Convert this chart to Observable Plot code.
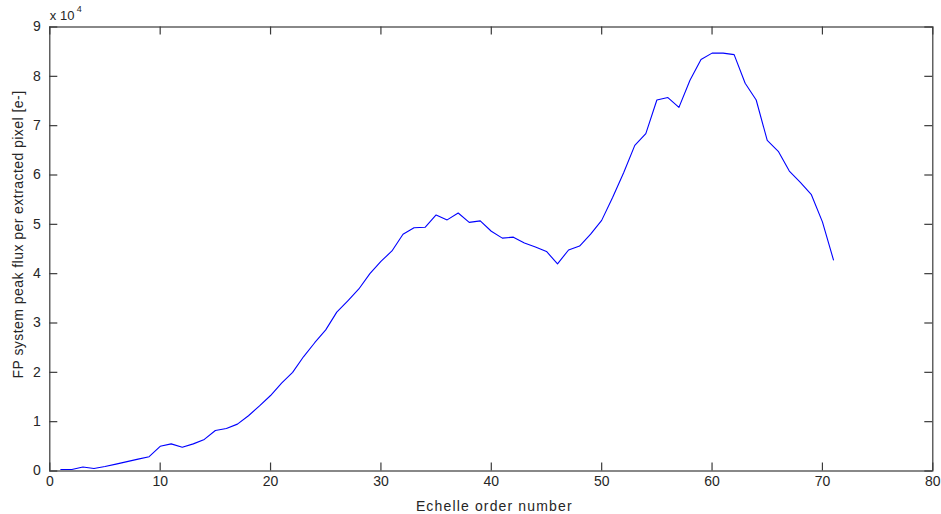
<!DOCTYPE html>
<html>
<head>
<meta charset="utf-8">
<script src="https://cdn.jsdelivr.net/npm/d3@7"></script>
<script src="https://cdn.jsdelivr.net/npm/@observablehq/plot@0.6"></script>
<style>
  html, body { margin: 0; padding: 0; background: #fff; }
</style>
</head>
<body>
<div id="chart"></div>
<script>
// Echelle order numbers
const orders = d3.range(1, 72);
// FP system peak flux per extracted pixel, in units of 10^4 e-
const flux = [
  0.03, 0.03, 0.08, 0.05, 0.09, 0.14, 0.19, 0.24, 0.29, 0.50,
  0.55, 0.48, 0.55, 0.64, 0.82, 0.86, 0.95, 1.12, 1.32, 1.53,
  1.78, 2.00, 2.32, 2.60, 2.86, 3.22, 3.45, 3.69, 4.00, 4.25,
  4.46, 4.80, 4.93, 4.94, 5.19, 5.09, 5.23, 5.04, 5.07, 4.86,
  4.72, 4.74, 4.62, 4.54, 4.45, 4.20, 4.48, 4.56, 4.80, 5.08,
  5.55, 6.05, 6.60, 6.84, 7.52, 7.57, 7.37, 7.92, 8.34, 8.47,
  8.47, 8.44, 7.86, 7.52, 6.70, 6.48, 6.08, 5.85, 5.60, 5.05,
  4.28
];
const xTicks = [0, 10, 20, 30, 40, 50, 60, 70, 80];
const yTicks = [0, 1, 2, 3, 4, 5, 6, 7, 8, 9];
const xLabel = "Echelle order number";
const yLabel = "FP system peak flux per extracted pixel [e-]";
const multiplier = "x 10";
const exponent = "4";

const data = orders.map((o, i) => ({order: o, flux: flux[i]}));

const W = 941, H = 514;
const mL = 49.3, mR = 8.7, mT = 26.5, mB = 43.5;
const plotW = W - mL - mR, plotH = H - mT - mB;
const tick = 8;
const axisColor = "#3a3a3a";
const textColor = "#262626";

const chart = Plot.plot({
  width: W,
  height: H,
  marginLeft: mL,
  marginRight: mR,
  marginTop: mT,
  marginBottom: mB,
  style: {fontFamily: "'Liberation Sans', Arial, sans-serif", background: "#fff", color: textColor},
  x: {domain: [0, 80], label: null},
  y: {domain: [0, 9], label: null},
  marks: [
    Plot.frame({stroke: axisColor, strokeWidth: 1.2}),
    // inward ticks on all four sides
    Plot.ruleX(xTicks, {x: d => d, insetTop: plotH - tick, stroke: axisColor, strokeWidth: 1.2}),
    Plot.ruleX(xTicks, {x: d => d, insetBottom: plotH - tick, stroke: axisColor, strokeWidth: 1.2}),
    Plot.ruleY(yTicks, {y: d => d, insetRight: plotW - tick, stroke: axisColor, strokeWidth: 1.2}),
    Plot.ruleY(yTicks, {y: d => d, insetLeft: plotW - tick, stroke: axisColor, strokeWidth: 1.2}),
    Plot.axisX(xTicks, {tickSize: 0, tickPadding: 5, fontSize: 14, label: null, fill: textColor}),
    Plot.axisY(yTicks, {tickSize: 0, tickPadding: 9, fontSize: 14, label: null, fill: textColor}),
    Plot.line(data, {x: "order", y: "flux", stroke: "#0000ff", strokeWidth: 1.1}),
    // axis titles
    Plot.text([xLabel], {text: d => d, frameAnchor: "bottom", textAnchor: "middle",
      lineAnchor: "bottom", dx: 3, dy: 39.5, fontSize: 14, fill: textColor}),
    Plot.text([yLabel], {text: d => d, frameAnchor: "left", textAnchor: "middle",
      lineAnchor: "bottom", rotate: -90, dx: 22 - mL, dy: -14.5, fontSize: 14, fill: textColor}),
    // exponent multiplier
    Plot.text([multiplier], {text: d => d, frameAnchor: "top-left", textAnchor: "start", lineAnchor: "bottom",
      dx: 0, dy: 19 - mT, fontSize: 13, fill: textColor}),
    Plot.text([exponent], {text: d => d, frameAnchor: "top-left", textAnchor: "start", lineAnchor: "bottom",
      dx: 27, dy: 11 - mT, fontSize: 9, fill: textColor})
  ]
});
d3.select(chart).selectAll("text")
  .filter(function() { return this.textContent === xLabel; })
  .style("letter-spacing", "1.15px");
d3.select(chart).selectAll("text")
  .filter(function() { return this.textContent === yLabel; })
  .style("letter-spacing", "0.45px");
document.getElementById("chart").appendChild(chart);
</script>
</body>
</html>
